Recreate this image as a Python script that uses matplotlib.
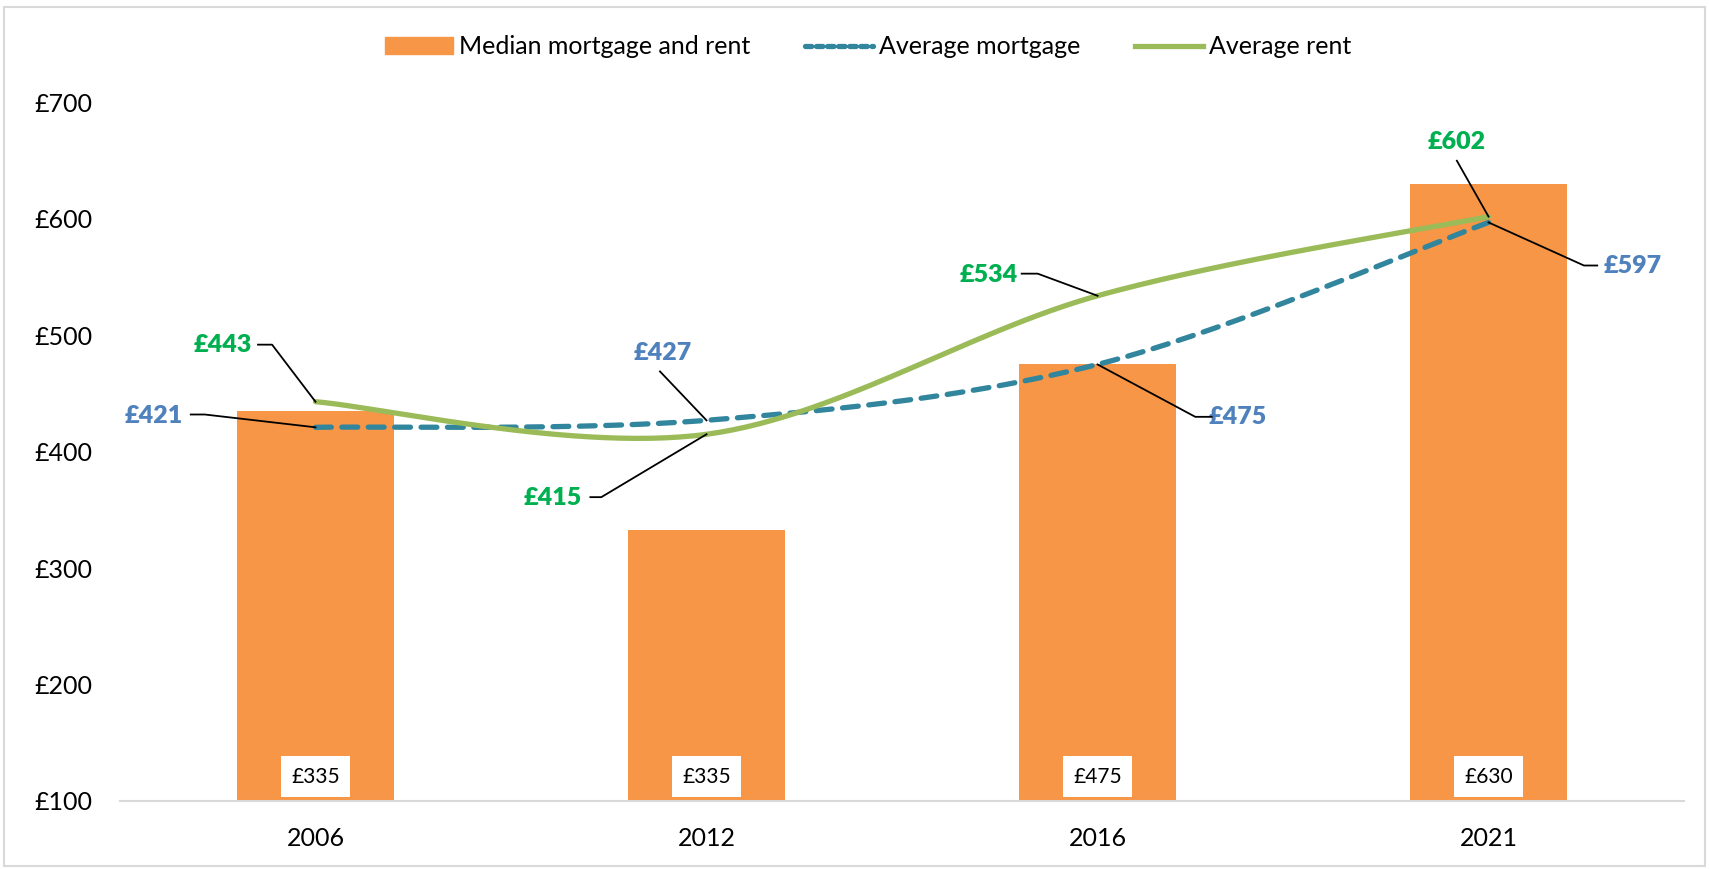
import numpy as np
import matplotlib
matplotlib.use("Agg")
import matplotlib.pyplot as plt
from matplotlib.patches import Rectangle
from matplotlib.lines import Line2D
from matplotlib.patches import Patch

plt.rcParams['font.family'] = ['Lato', 'DejaVu Sans']

years = ["2006", "2012", "2016", "2021"]
median_bars = [435, 333, 475, 630]
bar_labels = ["£335", "£335", "£475", "£630"]
avg_mortgage = [421, 427, 475, 597]
avg_rent = [443, 415, 534, 602]
y_ticks = [100, 200, 300, 400, 500, 600, 700]

ORANGE = "#F79646"
TEAL = "#31859C"
LGREEN = "#9BBB59"
TXT_GREEN = "#00B050"
TXT_BLUE = "#4F81BD"


def smooth(xs, ys, n=60):
    xs = np.asarray(xs, float); ys = np.asarray(ys, float)
    P = np.column_stack([xs, ys])
    P = np.vstack([P[0], P, P[-1]])
    out = []
    for i in range(1, len(P) - 2):
        p0, p1, p2, p3 = P[i - 1], P[i], P[i + 1], P[i + 2]
        c1 = p1 + (p2 - p0) / 6.0
        c2 = p2 - (p3 - p1) / 6.0
        t = np.linspace(0, 1, n)[:, None]
        seg = ((1 - t) ** 3) * p1 + 3 * ((1 - t) ** 2) * t * c1 + 3 * (1 - t) * t ** 2 * c2 + t ** 3 * p2
        out.append(seg if i == 1 else seg[1:])
    S = np.vstack(out)
    return S[:, 0], S[:, 1]


fig = plt.figure(figsize=(17.09, 8.69), dpi=100)
fig.patches.append(Rectangle((0.0025, 0.003), 0.995, 0.989, transform=fig.transFigure,
                             fill=False, edgecolor="#D9D9D9", linewidth=1.5))
ax = fig.add_axes([0.0702, 0.0783, 0.9152, 0.8037])

x = np.arange(len(years))
ax.bar(x, np.array(median_bars) - 100, bottom=100, width=0.4, color=ORANGE, zorder=2)

sx, sy = smooth(x, avg_mortgage)
ax.plot(sx, sy, color=TEAL, lw=3.8, dashes=(3.0, 2.0), dash_capstyle='round', zorder=3)
rx, ry = smooth(x, avg_rent)
ax.plot(rx, ry, color=LGREEN, lw=3.8, solid_capstyle='round', zorder=4)

# bar labels
for xi, lab in zip(x, bar_labels):
    ax.text(xi, 121, lab, ha='center', va='center', fontsize=15, color='black',
            bbox=dict(boxstyle='square,pad=0.5', fc='white', ec='none'), zorder=5)

# data labels with leader lines: (text x, text y, leader path)
rent_lbl = [
    (-0.236, 492, [(-0.147, 492), (-0.111, 492), (0, 443)]),
    (0.608, 360, [(0.703, 361), (0.731, 361), (1, 415)]),
    (1.722, 552, [(1.806, 553), (1.847, 553), (2, 534)]),
    (2.919, 666, [(2.919, 650), (3, 602)]),
]
mort_lbl = [
    (-0.414, 431, [(-0.319, 432), (-0.283, 432), (0, 421)]),
    (0.889, 485, [(0.881, 469), (1, 427)]),
    (2.358, 430, [(2.292, 430), (2.25, 430), (2, 475)]),
    (3.369, 560, [(3.278, 560), (3.244, 560), (3, 597)]),
]
for (tx, ty, path), v in zip(rent_lbl, avg_rent):
    ax.text(tx, ty, f"£{v}", ha='center', va='center', fontsize=18, fontweight='heavy', color=TXT_GREEN, zorder=6)
    px, py = zip(*path)
    ax.plot(px, py, color='black', lw=1.3, zorder=6, clip_on=False)
for (tx, ty, path), v in zip(mort_lbl, avg_mortgage):
    ax.text(tx, ty, f"£{v}", ha='center', va='center', fontsize=18, fontweight='heavy', color=TXT_BLUE, zorder=6,
            clip_on=False)
    px, py = zip(*path)
    ax.plot(px, py, color='black', lw=1.3, zorder=6, clip_on=False)

ax.set_xlim(-0.5, 3.5)
ax.set_ylim(100, 700)
ax.set_yticks(y_ticks)
ax.set_yticklabels([f"£{v}" for v in y_ticks], fontsize=18)
ax.set_xticks(x)
ax.set_xticklabels(years, fontsize=18)
ax.tick_params(length=0)
ax.tick_params(axis='y', pad=20)
ax.tick_params(axis='x', pad=19)
for s in ['top', 'right', 'left']:
    ax.spines[s].set_visible(False)
ax.spines['bottom'].set_color('#D9D9D9')
ax.spines['bottom'].set_linewidth(1.5)

handles = [Patch(color=ORANGE),
           Line2D([0], [0], color=TEAL, lw=3.8, dashes=(1.2, 0.9), dash_capstyle='round'),
           Line2D([0], [0], color=LGREEN, lw=3.8)]
fig.legend(handles, ["Median mortgage and rent", "Average mortgage", "Average rent"],
           loc='center', bbox_to_anchor=(0.508, 0.946), ncol=3, frameon=False, fontsize=18,
           handlelength=2.7, handletextpad=0.25, columnspacing=2.2)

fig.savefig("out.png", dpi=100)
